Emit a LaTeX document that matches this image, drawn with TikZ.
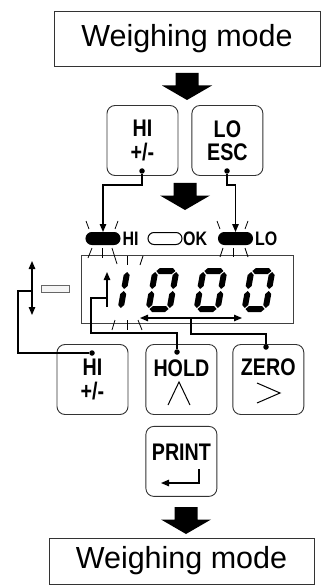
\documentclass[tikz,border=0pt]{standalone}
\usepackage{fontspec}
\usepackage{tikz}
\usetikzlibrary{arrows.meta,positioning}
\newfontfamily\modefont{Liberation Sans}
\newfontfamily\keyfont{Liberation Sans}[FakeStretch=0.82]

\begin{document}
\begin{tikzpicture}[
    x={(1pt,0)}, y={(0,-1pt)},
    modebox/.style={draw=black!80,line width=0.8pt,inner sep=0pt,
        font=\modefont\fontsize{30.5}{33}\selectfont},
    keybox/.style={draw=black!80,line width=0.9pt,rounded corners=8pt,
        minimum width=71pt,minimum height=70pt,inner sep=0pt,align=center,
        font=\keyfont\bfseries\fontsize{24}{23.5}\selectfont},
    keytext/.style={inner sep=0pt,font=\keyfont\bfseries\fontsize{24}{25}\selectfont},
    ledtext/.style={inner sep=0pt,anchor=west,
        font=\keyfont\bfseries\fontsize{19.5}{20}\selectfont},
    pill/.style={draw=black,line width=1pt,rounded corners=6pt,
        minimum width=34pt,minimum height=12pt,inner sep=0pt},
    lcd/.style={draw=black!75,line width=0.8pt,minimum width=212pt,
        minimum height=68pt,inner sep=0pt},
    joint/.style={circle,fill=black,inner sep=0pt,minimum size=5.5pt},
    wire/.style={line width=1.3pt},
    arrowed/.style={-{Triangle[length=8pt,width=6.5pt]}},
    twoway/.style={{Triangle[length=8pt,width=6.5pt]}-{Triangle[length=8pt,width=6.5pt]}},
    flash/.style={line width=0.8pt},
    bigarrow/.pic={\fill (-11.5,0) -- (11.5,0) -- (11.5,12.5) -- (25,12.5)
        -- (0,27) -- (-25,12.5) -- (-11.5,12.5) -- cycle;},
    segzero/.pic={\fill[xslant=0.18]
        \foreach \x/\y in {4/-41,4/-3}{
            (\x,\y) -- (\x+3,\y-3) -- (\x+16,\y-3) -- (\x+19,\y)
            -- (\x+16,\y+3) -- (\x+3,\y+3) -- cycle}
        \foreach \x/\y in {3/-40,3/-21,24/-40,24/-21}{
            (\x,\y) -- (\x+3,\y+3) -- (\x+3,\y+14) -- (\x,\y+17)
            -- (\x-3,\y+14) -- (\x-3,\y+3) -- cycle};},
    segone/.pic={\fill[xslant=0.18]
        \foreach \x/\y in {24/-40,24/-21}{
            (\x,\y) -- (\x+3,\y+3) -- (\x+3,\y+14) -- (\x,\y+17)
            -- (\x-3,\y+14) -- (\x-3,\y+3) -- cycle};}
]
\useasboundingbox (0,0) rectangle (321,585);
\node[modebox,minimum width=266pt,minimum height=55pt] (start) at (187,38.5)
    {Weighing mode};
\pic at (187,73) {bigarrow};
\node[keybox] (hikey) at (142.5,140.5) {HI\\+/-};
\node[keybox,right=13pt of hikey] (lokey) {LO\\ESC};
\node[joint] (hidot) at (142,171) {};
\node[joint] (lodot) at (227,171) {};
\pic at (185,183) {bigarrow};
\node[pill,fill=black] (hipill) at (103,238.5) {};
\node[ledtext] (hitext) at (122.5,238.5) {HI};
\node[pill,fill=white] (okpill) at (165,238.5) {};
\node[ledtext] (oktext) at (183,238.5) {OK};
\node[pill,fill=black] (lopill) at (235.5,238.5) {};
\node[ledtext] (lotext) at (255,238.5) {LO};
\node[lcd] (display) at (187,289) {};
\pic at (96,312) {segone};
\foreach \x in {145,193,241}
    \pic at (\x,312) {segzero};
\foreach \a/\b/\c/\d in {86/221/89/229,118/221/115/229,92/248/88/258,
    102/248/102/258,112/248/117/264,217/221/220/229,248/221/245/229,
    223/248/220/257,233/248/233/257,245/248/248/257,127/256/127/265,
    143/256/140/265,115/320/112/330,127/320/127/330,138/320/142/330}
    \draw[flash] (\a,\b) -- (\c,\d);
\node[draw=black!60,fill=black!4,line width=0.8pt,minimum width=28pt,
    minimum height=7pt,inner sep=0pt] (minusbar) at (55,288.5) {};
\coordinate (updntop) at (32,261);
\coordinate (updnbot) at (32,315);
\coordinate (updnjoin) at (32,291);
\coordinate (uptop) at (107,272);
\coordinate (upbot) at (107,307);
\coordinate (upjoin) at (107,298);
\coordinate (lrleft) at (140,318);
\coordinate (lrright) at (242,318);
\coordinate (lrjoin) at (191,318);
\draw[wire,twoway] (updntop) -- (updnbot);
\draw[wire,arrowed] (upbot) -- (uptop);
\draw[wire,twoway] (lrleft) -- (lrright);
\node[keybox] (hibkey) at (92.5,379.5) {HI\\+/-};
\node[keybox,right=17pt of hibkey] (holdkey) {};
\node[keybox,right=15pt of holdkey] (zerokey) {};
\node[keybox,below=11pt of holdkey] (printkey) {};
\node[keytext] (holdtext) at ([yshift=11pt]holdkey.center) {HOLD};
\node[keytext] (zerotext) at ([yshift=12.5pt]zerokey.center) {ZERO};
\node[keytext] (printtext) at ([yshift=9pt]printkey.center) {PRINT};
\draw[line width=1pt] (168,405) -- (179,382) -- (190,405);
\draw[line width=1pt] (257,383) -- (280,393) -- (257,403);
\draw[wire,arrowed] (199,469) -- (199,483) -- (161,483);
\node[joint] (hibdot) at (92,353) {};
\node[joint] (holddot) at (177,352) {};
\node[joint] (zerodot) at (266,347) {};
\draw[wire,arrowed] (hidot) -- ++(0,14) -| (hipill.north);
\draw[wire,arrowed] (lodot) -- ++(0,14) -| (lopill.north);
\draw[wire] (hibdot) -- ++(-74,0) |- (updnjoin);
\draw[wire] (holddot) -- ++(0,-19) -| ++(-86,-35) -- (upjoin);
\draw[wire] (zerodot) -- ++(0,-13) -| (lrjoin);
\pic at (186,507) {bigarrow};
\node[modebox,minimum width=265pt,minimum height=46pt] (finish) at (181.5,561)
    {Weighing mode};
\end{tikzpicture}
\end{document}
